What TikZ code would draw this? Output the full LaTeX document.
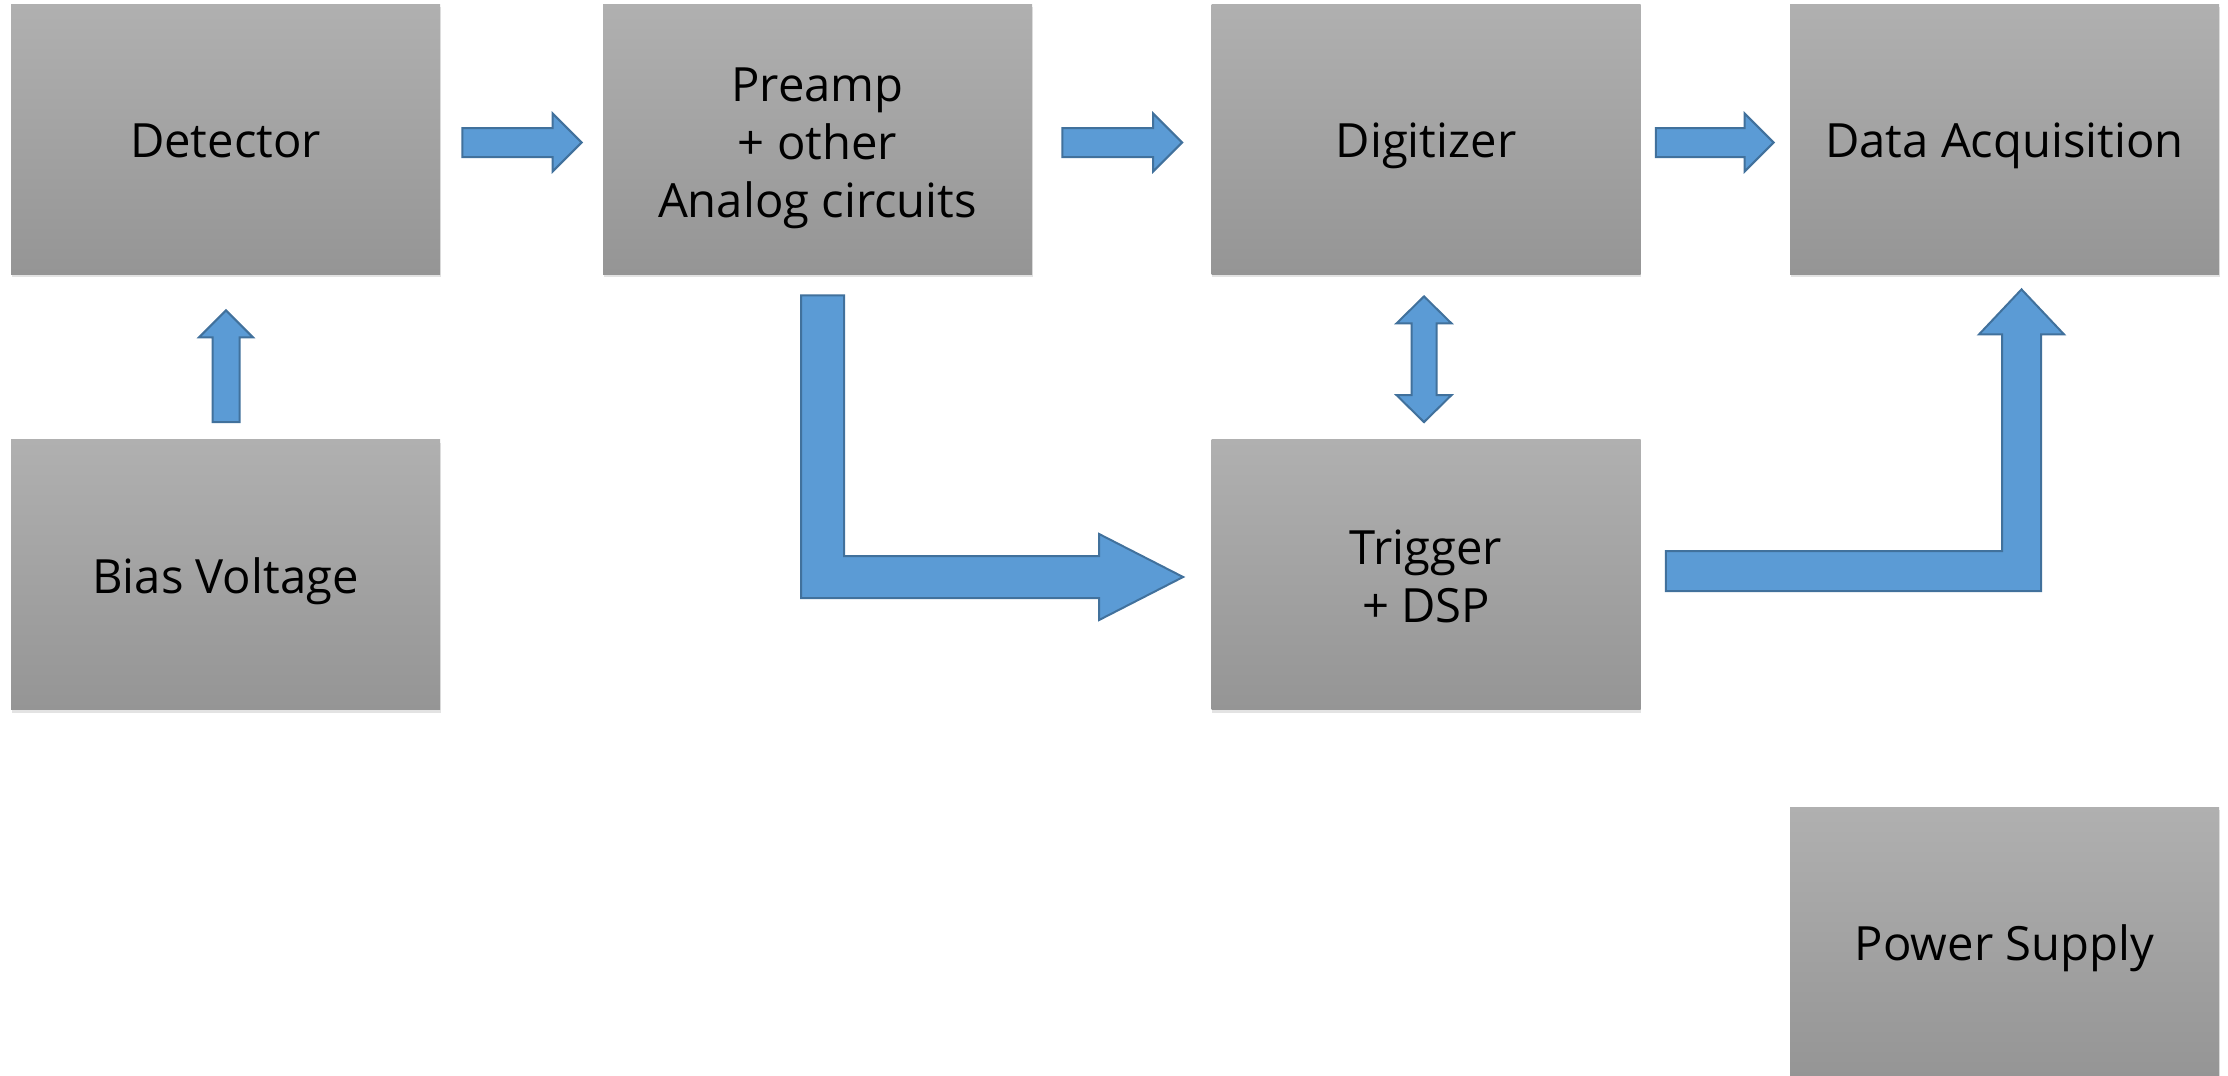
\documentclass[tikz,border=0pt]{standalone}
\usepackage{fontspec}
\setmainfont{Open Sans}
\usetikzlibrary{calc,shadows}
\definecolor{arrfill}{HTML}{5B9BD5}
\definecolor{arrdraw}{HTML}{41719C}
\definecolor{boxtop}{HTML}{B0B0B0}
\definecolor{boxbot}{HTML}{959595}
\tikzset{
  block/.style={rectangle, minimum width=214.5pt, minimum height=135pt,
    inner sep=0pt, top color=boxtop, bottom color=boxbot,
    drop shadow={shadow xshift=0.4pt, shadow yshift=-1.6pt, opacity=0.22}},
  lab/.style={anchor=base, align=center, inner sep=0pt,
    font=\fontsize{23.6pt}{28.8pt}\selectfont, text=black},
  blockarrow/.style={fill=arrfill, draw=arrdraw, line width=1pt, line join=miter}
}
\newcommand{\hblock}[2]{%
  \draw[blockarrow] ($(#1)+(0,-14.5)$) -- ($(#2)+(-29,-14.5)$) -- ($(#2)+(-29,-29)$) -- (#2)
    -- ($(#2)+(-29,29)$) -- ($(#2)+(-29,14.5)$) -- ($(#1)+(0,14.5)$) -- cycle;}
\begin{document}
\begin{tikzpicture}[x=0.5pt,y=-0.5pt]
\useasboundingbox (0,0) rectangle (2228,1076);
\fill[white] (0,0) rectangle (2228,1076);
% boxes
\node[block] (det)  at (225.5,139) {};
\node[block] (pre)  at (817.5,139) {};
\node[block] (dig)  at (1426,139) {};
\node[block] (daq)  at (2004.5,139) {};
\node[block] (bias) at (225.5,574.5) {};
\node[block] (trig) at (1426,574.5) {};
\node[block] (pow)  at (2004.5,942) {};
% labels (anchored at the baseline of the last line)
\node[lab] (detl)  at ($(det.center)+(0,18.5)$) {Detector};
\node[lab] (prel)  at ($(pre.center)+(0,78)$) {Preamp\\+ other\\Analog circuits};
\node[lab] (digl)  at ($(dig.center)+(0,18.5)$) {Digitizer};
\node[lab] (daql)  at ($(daq.center)+(0,18.5)$) {Data Acquisition};
\node[lab] (biasl) at ($(bias.center)+(0,18.5)$) {Bias Voltage};
\node[lab] (trigl) at ($(trig.center)+(0,47.5)$) {Trigger\\+ DSP};
\node[lab] (powl)  at ($(pow.center)+(0,18.5)$) {Power Supply};
% straight horizontal arrows
\coordinate (a1s) at ($(det.east)+(22,3.5)$);
\coordinate (a1e) at ($(pre.west)+(-21,3.5)$);
\hblock{a1s}{a1e}
\coordinate (a2s) at ($(pre.east)+(30,3.5)$);
\coordinate (a2e) at ($(dig.west)+(-29,3.5)$);
\hblock{a2s}{a2e}
\coordinate (a3s) at ($(dig.east)+(15,3.5)$);
\coordinate (a3e) at ($(daq.west)+(-16,3.5)$);
\hblock{a3s}{a3e}
% bias -> detector
\coordinate (bs) at ($(bias.north)+(0.5,-17)$);
\coordinate (bt) at ($(det.south)+(0.5,36)$);
\draw[blockarrow] ($(bs)+(-13.5,0)$) -- ($(bt)+(-13.5,27)$) -- ($(bt)+(-27,27)$) -- (bt)
  -- ($(bt)+(27,27)$) -- ($(bt)+(13.5,27)$) -- ($(bs)+(13.5,0)$) -- cycle;
% digitizer <-> trigger
\coordinate (dt) at ($(dig.south)+(-2,22)$);
\coordinate (db) at ($(trig.north)+(-2,-17)$);
\draw[blockarrow] (dt) -- ($(dt)+(27.5,27)$) -- ($(dt)+(12.5,27)$) -- ($(db)+(12.5,-27)$)
  -- ($(db)+(27.5,-27)$) -- (db) -- ($(db)+(-27.5,-27)$) -- ($(db)+(-12.5,-27)$)
  -- ($(dt)+(-12.5,27)$) -- ($(dt)+(-27.5,27)$) -- cycle;
% preamp -> trigger (L arrow)
\coordinate (l1a) at ($(pre.south)+(5,21)$);
\coordinate (l1b) at ($(trig.west)+(-28,2.5)$);
\coordinate (l1c) at (l1a |- l1b);
\draw[blockarrow] ($(l1a)+(-21.5,0)$) -- ($(l1a)+(21.5,0)$) -- ($(l1c)+(21.5,-21)$)
  -- ($(l1b)+(-84,-21)$) -- ($(l1b)+(-84,-43)$) -- (l1b) -- ($(l1b)+(-84,43)$)
  -- ($(l1b)+(-84,21)$) -- ($(l1c)+(-21.5,21)$) -- cycle;
% trigger -> data acquisition (L arrow)
\coordinate (l2a) at ($(trig.east)+(25,-3.5)$);
\coordinate (l2b) at ($(daq.south)+(17,15)$);
\coordinate (l2c) at (l2b |- l2a);
\draw[blockarrow] ($(l2a)+(0,-20)$) -- ($(l2c)+(-19.5,-20)$) -- ($(l2b)+(-19.5,45)$)
  -- ($(l2b)+(-42.5,45)$) -- (l2b) -- ($(l2b)+(42.5,45)$) -- ($(l2b)+(19.5,45)$)
  -- ($(l2c)+(19.5,20)$) -- ($(l2a)+(0,20)$) -- cycle;
\end{tikzpicture}
\end{document}
